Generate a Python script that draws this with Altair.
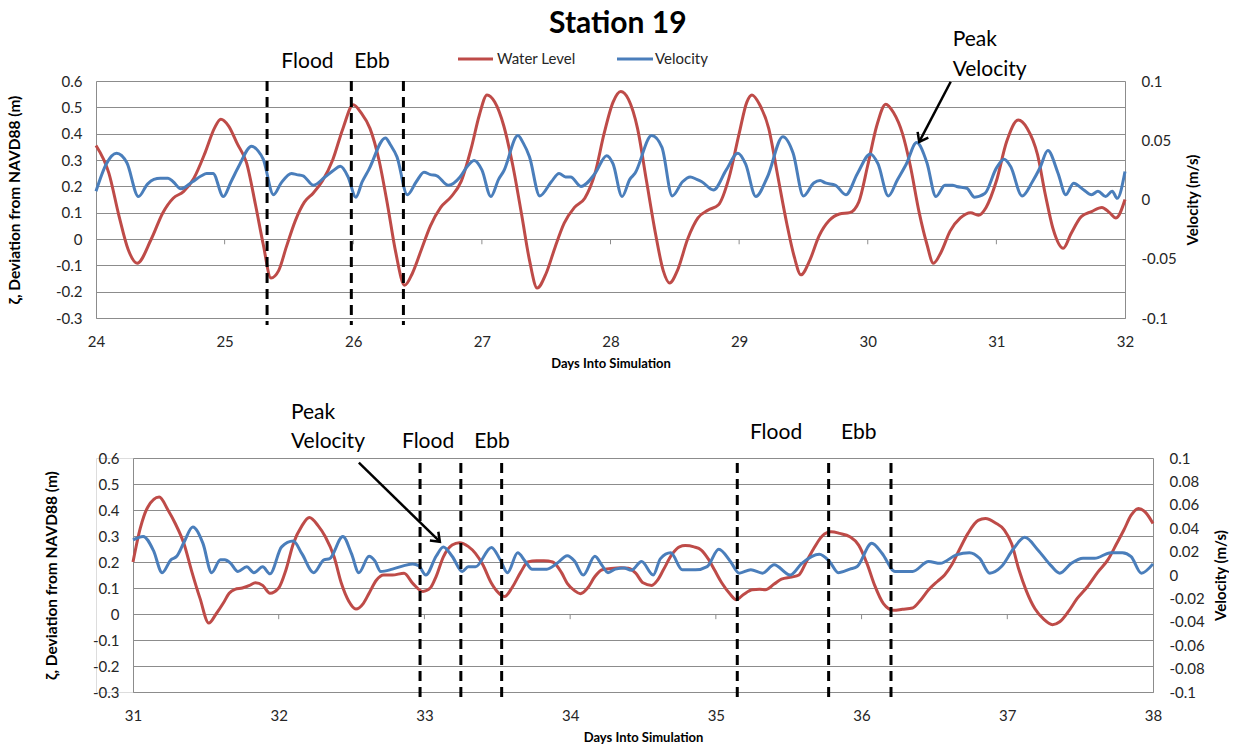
import altair as alt
import pandas as pd

FONT = "Lato, DejaVu Sans"
RED = "#BE4B48"
BLUE = "#4A7EBB"
GRID = "#8C8C8C"
TXT = "#262626"

# ---------------- top panel (days 24-32) ----------------
top_wl_day = [24.00, 24.10, 24.18, 24.25, 24.32, 24.43, 24.52, 24.60, 24.68, 24.76, 24.85, 24.92, 24.97,
              25.03, 25.10, 25.17, 25.24, 25.30, 25.36, 25.42, 25.48, 25.55, 25.62, 25.69, 25.76, 25.84,
              25.92, 26.00, 26.06, 26.13, 26.20, 26.27, 26.33, 26.40, 26.46, 26.53, 26.60, 26.68, 26.76,
              26.84, 26.92, 26.98, 27.04, 27.10, 27.17, 27.24, 27.31, 27.37, 27.43, 27.50, 27.57, 27.64,
              27.72, 27.80, 27.88, 27.95, 28.02, 28.08, 28.14, 28.21, 28.28, 28.35, 28.41, 28.46, 28.52,
              28.60, 28.68, 28.76, 28.84, 28.92, 29.00, 29.06, 29.10, 29.16, 29.23, 29.30, 29.37, 29.43,
              29.48, 29.55, 29.62, 29.70, 29.78, 29.86, 29.93, 30.00, 30.07, 30.14, 30.20, 30.27, 30.33,
              30.40, 30.46, 30.51, 30.57, 30.64, 30.72, 30.80, 30.86, 30.92, 31.00, 31.08, 31.17, 31.24,
              31.32, 31.38, 31.44, 31.52, 31.58, 31.66, 31.74, 31.82, 31.88, 31.93, 32.00]
top_wl_val = [0.355, 0.25, 0.085, -0.04, -0.092, 0.0, 0.10, 0.155, 0.18, 0.23, 0.33, 0.42, 0.455,
              0.43, 0.36, 0.29, 0.13, -0.02, -0.148, -0.12, -0.03, 0.07, 0.14, 0.175, 0.22, 0.30,
              0.42, 0.51, 0.48, 0.42, 0.30, 0.12, -0.05, -0.176, -0.13, -0.04, 0.05, 0.12, 0.16,
              0.22, 0.35, 0.47, 0.547, 0.52, 0.43, 0.28, 0.09, -0.08, -0.186, -0.13, -0.03, 0.06,
              0.12, 0.155, 0.25, 0.40, 0.52, 0.56, 0.53, 0.42, 0.22, 0.02, -0.12, -0.167, -0.12,
              0.0, 0.08, 0.11, 0.13, 0.23, 0.40, 0.52, 0.547, 0.51, 0.42, 0.24, 0.06, -0.07,
              -0.136, -0.08, 0.01, 0.07, 0.095, 0.10, 0.14, 0.28, 0.43, 0.512, 0.48, 0.40, 0.28,
              0.10, -0.02, -0.092, -0.05, 0.03, 0.08, 0.10, 0.09, 0.12, 0.22, 0.37, 0.452, 0.42,
              0.32, 0.17, 0.04, -0.035, 0.02, 0.085, 0.104, 0.12, 0.10, 0.08, 0.15]

top_vel_day = [24.00, 24.08, 24.16, 24.24, 24.33, 24.40, 24.45, 24.50, 24.56, 24.60, 24.66, 24.75, 24.82,
               24.86, 24.91, 24.99, 25.05, 25.11, 25.21, 25.26, 25.30, 25.38, 25.44, 25.52, 25.56, 25.61,
               25.69, 25.78, 25.84, 25.90, 25.96, 26.02, 26.07, 26.12, 26.25, 26.29, 26.34, 26.42, 26.49,
               26.55, 26.60, 26.65, 26.74, 26.83, 26.88, 26.94, 27.00, 27.07, 27.13, 27.17, 27.28, 27.32,
               27.37, 27.45, 27.54, 27.60, 27.65, 27.69, 27.77, 27.88, 27.97, 28.02, 28.09, 28.15, 28.19,
               28.32, 28.40, 28.48, 28.56, 28.62, 28.67, 28.71, 28.80, 28.90, 28.99, 29.05, 29.13, 29.22,
               29.34, 29.42, 29.50, 29.58, 29.63, 29.67, 29.75, 29.83, 29.92, 30.02, 30.08, 30.16, 30.23,
               30.30, 30.38, 30.46, 30.53, 30.60, 30.66, 30.69, 30.77, 30.83, 30.91, 31.00, 31.06, 31.11,
               31.20, 31.28, 31.34, 31.40, 31.48, 31.54, 31.60, 31.68, 31.74, 31.79, 31.85, 31.90, 31.94,
               32.00]
top_vel_val = [0.007, 0.030, 0.039, 0.031, 0.0025, 0.013, 0.017, 0.018, 0.018, 0.015, 0.009, 0.015, 0.020,
               0.022, 0.022, 0.0025, 0.015, 0.028, 0.045, 0.041, 0.034, 0.004, 0.014, 0.022, 0.021, 0.020,
               0.012, 0.019, 0.024, 0.028, 0.019, 0.002, 0.015, 0.025, 0.052, 0.046, 0.036, 0.004, 0.015,
               0.023, 0.021, 0.020, 0.012, 0.019, 0.027, 0.033, 0.025, 0.0025, 0.017, 0.024, 0.054, 0.048,
               0.036, 0.003, 0.015, 0.022, 0.019, 0.019, 0.011, 0.022, 0.037, 0.030, 0.0025, 0.017, 0.022,
               0.054, 0.044, 0.003, 0.015, 0.019, 0.017, 0.015, 0.008, 0.025, 0.039, 0.030, 0.0025, 0.019,
               0.053, 0.039, 0.003, 0.014, 0.016, 0.014, 0.012, 0.004, 0.022, 0.0385, 0.030, 0.003, 0.0165,
               0.030, 0.048, 0.031, 0.0025, 0.012, 0.012, 0.011, 0.0095, 0.002, 0.005, 0.0265, 0.034, 0.028,
               0.003, 0.015, 0.027, 0.0413, 0.022, 0.004, 0.0138, 0.008, 0.004, 0.007, 0.0025, 0.007, 0.001,
               0.0236]

# ---------------- bottom panel (days 31-38) ----------------
bot_wl_day = [31.00, 31.05, 31.10, 31.18, 31.24, 31.29, 31.35, 31.40, 31.46, 31.52, 31.57, 31.62, 31.66,
              31.70, 31.75, 31.80, 31.84, 31.89, 31.94, 32.00, 32.05, 32.10, 32.16, 32.21, 32.27, 32.32,
              32.38, 32.43, 32.48, 32.53, 32.58, 32.62, 32.67, 32.72, 32.78, 32.86, 32.92, 32.99, 33.04,
              33.08, 33.13, 33.19, 33.24, 33.30, 33.35, 33.40, 33.46, 33.51, 33.55, 33.60, 33.66, 33.71,
              33.77, 33.82, 33.88, 33.94, 33.98, 34.03, 34.07, 34.12, 34.17, 34.22, 34.28, 34.35, 34.40,
              34.45, 34.50, 34.56, 34.60, 34.64, 34.70, 34.75, 34.79, 34.85, 34.90, 34.95, 34.99, 35.04,
              35.10, 35.14, 35.19, 35.25, 35.30, 35.34, 35.40, 35.45, 35.52, 35.57, 35.62, 35.67, 35.73,
              35.79, 35.85, 35.92, 35.98, 36.04, 36.09, 36.15, 36.22, 36.28, 36.35, 36.40, 36.46, 36.52,
              36.57, 36.62, 36.67, 36.73, 36.80, 36.85, 36.92, 36.98, 37.03, 37.08, 37.13, 37.19, 37.25,
              37.31, 37.36, 37.42, 37.48, 37.55, 37.62, 37.69, 37.75, 37.80, 37.85, 37.90, 37.95, 38.00]
bot_wl_val = [0.20, 0.33, 0.41, 0.45, 0.40, 0.348, 0.27, 0.17, 0.06, -0.035, 0.00, 0.042, 0.08,
              0.095, 0.10, 0.11, 0.12, 0.11, 0.08, 0.10, 0.17, 0.27, 0.34, 0.371, 0.34, 0.297,
              0.22, 0.118, 0.05, 0.019, 0.04, 0.08, 0.13, 0.15, 0.15, 0.157, 0.118, 0.087, 0.10,
              0.144, 0.22, 0.265, 0.274, 0.26, 0.233, 0.19, 0.118, 0.08, 0.067, 0.10, 0.16, 0.20,
              0.205, 0.205, 0.20, 0.16, 0.118, 0.09, 0.078, 0.10, 0.144, 0.17, 0.175, 0.178, 0.176,
              0.157, 0.12, 0.11, 0.13, 0.17, 0.23, 0.258, 0.263, 0.258, 0.246, 0.21, 0.17, 0.12,
              0.075, 0.055, 0.075, 0.093, 0.095, 0.093, 0.115, 0.134, 0.142, 0.15, 0.20, 0.25, 0.30,
              0.316, 0.31, 0.297, 0.265, 0.19, 0.11, 0.04, 0.014, 0.018, 0.023, 0.05, 0.093, 0.125,
              0.15, 0.19, 0.246, 0.31, 0.36, 0.367, 0.35, 0.323, 0.27, 0.17, 0.09, 0.02, -0.02,
              -0.041, -0.03, 0.01, 0.06, 0.105, 0.16, 0.208, 0.27, 0.323, 0.38, 0.406, 0.39, 0.348]

bot_vel_day = [31.00, 31.07, 31.14, 31.20, 31.26, 31.30, 31.35, 31.41, 31.48, 31.54, 31.60, 31.63, 31.67,
               31.72, 31.78, 31.83, 31.89, 31.94, 32.02, 32.10, 32.16, 32.24, 32.31, 32.35, 32.44, 32.50,
               32.55, 32.62, 32.66, 32.70, 32.78, 32.86, 32.92, 32.96, 33.01, 33.08, 33.13, 33.19, 33.26,
               33.30, 33.35, 33.46, 33.52, 33.57, 33.64, 33.69, 33.74, 33.79, 33.84, 33.91, 33.98, 34.03,
               34.09, 34.17, 34.22, 34.26, 34.31, 34.37, 34.42, 34.49, 34.57, 34.62, 34.69, 34.77, 34.86,
               34.94, 35.02, 35.10, 35.16, 35.24, 35.32, 35.40, 35.51, 35.59, 35.71, 35.78, 35.84, 35.92,
               35.97, 36.07, 36.14, 36.23, 36.35, 36.46, 36.54, 36.65, 36.74, 36.81, 36.88, 36.96, 37.04,
               37.12, 37.21, 37.30, 37.36, 37.44, 37.52, 37.60, 37.71, 37.79, 37.85, 37.92, 38.00]
bot_vel_val = [0.030, 0.033, 0.021, 0.002, 0.013, 0.016, 0.028, 0.041, 0.027, 0.002, 0.013, 0.013, 0.010,
               0.003, 0.007, 0.002, 0.007, 0.001, 0.024, 0.029, 0.018, 0.002, 0.013, 0.014, 0.033, 0.018,
               0.002, 0.016, 0.012, 0.003, 0.005, 0.008, 0.0095, 0.008, 0.0, 0.016, 0.024, 0.016, 0.003,
               0.007, 0.007, 0.0236, 0.013, 0.002, 0.019, 0.012, 0.005, 0.005, 0.005, 0.010, 0.0165, 0.012,
               0.0, 0.016, 0.008, 0.002, 0.005, 0.006, 0.004, 0.0115, 0.0, 0.014, 0.019, 0.0044, 0.0044,
               0.0072, 0.022, 0.0115, 0.0016, 0.0044, 0.0016, 0.0087, 0.0, 0.010, 0.0177, 0.0115, 0.002, 0.005,
               0.0072, 0.0271, 0.0186, 0.003, 0.003, 0.0115, 0.010, 0.0172, 0.0191, 0.0143, 0.0016, 0.0072, 0.022,
               0.0322, 0.0214, 0.008, 0.0016, 0.0101, 0.0143, 0.0143, 0.0191, 0.0191, 0.0157, 0.0016, 0.0095]

# axis ticks
top_x_ticks = [24, 25, 26, 27, 28, 29, 30, 31, 32]
bot_x_ticks = [31, 32, 33, 34, 35, 36, 37, 38]
left_ticks = [-0.3, -0.2, -0.1, 0.0, 0.1, 0.2, 0.3, 0.4, 0.5, 0.6]
top_right_ticks = [-0.1, -0.05, 0.0, 0.05, 0.1]
bot_right_ticks = [-0.1, -0.08, -0.06, -0.04, -0.02, 0.0, 0.02, 0.04, 0.06, 0.08, 0.1]

# annotations (days)
top_dash_days = [25.33, 25.985, 26.39]
bot_dash_days = [32.97, 33.25, 33.53, 35.147, 35.774, 36.202]
top_arrow_day = [30.645, 30.40]
top_arrow_val = [0.597, 0.369]
bot_arrow_day = [32.55, 33.106]
bot_arrow_val = [0.582, 0.278]


def lab(dec):
    return "replace(format(datum.value, '.%d~f'), '\u2212', '-')" % dec


def panel(wl_day, wl_val, v_day, v_val, xdom, xticks, W, H, shift, rticks, rdec,
          dash_days, dash_y1, dash_y2, texts, arrow_day, arrow_val, arrow_angle, legend):
    xscale = alt.Scale(domain=xdom, range=[shift, shift + W], nice=False, zero=False)
    xaxis = alt.Axis(values=xticks, title="Days Into Simulation", grid=False, ticks=False, tickSize=0,
                     domainColor=GRID, domainWidth=1, labelFontSize=15, labelColor=TXT, labelPadding=16,
                     labelFont=FONT, titleFont=FONT, titleFontSize=13, titleFontWeight="bold",
                     titleColor="black", titlePadding=8, labelFlush=False)

    def X(f):
        return alt.X(f, type="quantitative", scale=xscale, axis=xaxis)

    ly = alt.Scale(domain=[-0.3, 0.6], nice=False, zero=False)
    laxis = alt.Axis(orient="left", values=left_ticks, labelExpr=lab(1), grid=True, gridColor=GRID,
                     gridWidth=1, ticks=False, tickSize=0, domainColor=GRID, domainWidth=1,
                     labelFontSize=15, labelColor=TXT, labelPadding=14, labelFont=FONT,
                     title="ζ, Deviation from NAVD88 (m)", titleFont=FONT, titleFontSize=15.5,
                     titleFontWeight="bold", titleColor="black", titlePadding=33, offset=-shift)

    def LY(f):
        return alt.Y(f, type="quantitative", scale=ly, axis=laxis)

    ry = alt.Scale(domain=[-0.1, 0.1], nice=False, zero=False)
    raxis = alt.Axis(orient="right", values=rticks, labelExpr=lab(rdec), grid=False, ticks=False,
                     tickSize=0, domainColor=GRID, domainWidth=1, labelFontSize=15, labelColor=TXT,
                     labelPadding=16, labelFont=FONT, title="Velocity (m/s)", titleFont=FONT,
                     titleFontSize=15, titleFontWeight="bold", titleColor="black", titlePadding=9,
                     titleAngle=270, titleBaseline="top")

    ticks_df = pd.DataFrame({"day": [d for d in xticks[1:-1]],
                             "y0": [0.0] * (len(xticks) - 2),
                             "y1": [-0.02] * (len(xticks) - 2)})
    wl_df = pd.DataFrame({"day": wl_day, "val": wl_val})
    v_df = pd.DataFrame({"day": v_day, "val": v_val})

    zero_ticks = alt.Chart(ticks_df).mark_rule(color=GRID, strokeWidth=1).encode(
        x=X("day"), y=LY("y0"), y2="y1")
    wl_line = alt.Chart(wl_df).mark_line(color=RED, strokeWidth=3, interpolate="monotone").encode(
        x=X("day"), y=LY("val"))
    left_group = alt.layer(zero_ticks, wl_line)

    vel_line = alt.Chart(v_df).mark_line(color=BLUE, strokeWidth=3, interpolate="monotone").encode(
        x=X("day"), y=alt.Y("val", type="quantitative", scale=ry, axis=raxis))

    ay = alt.Scale(domain=[-0.3, 0.6], nice=False, zero=False)
    dash_df = pd.DataFrame({"day": dash_days})
    dashes = alt.Chart(dash_df).mark_rule(color="black", strokeWidth=3, strokeDash=[10, 6]).encode(
        x=X("day"), y=alt.value(dash_y1), y2=alt.value(dash_y2))
    arrow_df = pd.DataFrame({"day": arrow_day, "val": arrow_val, "o": [0, 1]})
    arrow_line = alt.Chart(arrow_df).mark_line(color="black", strokeWidth=2.5).encode(
        x=X("day"), y=alt.Y("val", type="quantitative", scale=ay, axis=None), order="o")
    head_df = arrow_df.iloc[[1]]
    arrow_head = alt.Chart(head_df).mark_point(
        shape="M -1 -0.75 L 0 0 L -1 0.75", filled=False, color="black", strokeWidth=2.5,
        size=260, angle=arrow_angle, opacity=1).encode(
        x=X("day"), y=alt.Y("val", type="quantitative", scale=ay, axis=None))

    annot_layers = [dashes, arrow_line, arrow_head]
    for (label, day, py, align) in texts:
        tdf = pd.DataFrame({"day": [day], "label": [label]})
        annot_layers.append(
            alt.Chart(tdf).mark_text(font=FONT, fontSize=21, color="black", align=align,
                                     baseline="middle").encode(
                x=X("day"), y=alt.value(py), text="label"))
    if legend:
        one = pd.DataFrame({"k": [0]})
        for (name, color, x1, x2, tx) in legend:
            annot_layers.append(alt.Chart(one).mark_rule(color=color, strokeWidth=3).encode(
                x=alt.value(x1), x2=alt.value(x2), y=alt.value(-22)))
            annot_layers.append(alt.Chart(one).mark_text(
                text=name, font=FONT, fontSize=15, color=TXT, align="left", baseline="middle").encode(
                x=alt.value(tx), y=alt.value(-22)))
    annot_group = alt.layer(*annot_layers)

    return alt.layer(left_group, vel_line, annot_group).resolve_scale(y="independent").properties(
        width=shift + W, height=H)


top = panel(top_wl_day, top_wl_val, top_vel_day, top_vel_val, [24, 32], top_x_ticks,
            1029, 237, 0, top_right_ticks, 2,
            top_dash_days, 0, 244,
            [("Flood", 25.644, -19, "center"), ("Ebb", 26.146, -19, "center"),
             ("Peak", 30.66, -41, "left"), ("Velocity", 30.66, -11, "left")],
            top_arrow_day, top_arrow_val, 117.9,
            [("Water Level", RED, 362, 397, 401), ("Velocity", BLUE, 521, 557, 559)])

bottom = panel(bot_wl_day, bot_wl_val, bot_vel_day, bot_vel_val, [31, 38], bot_x_ticks,
               1020, 234, 37, bot_right_ticks, 2,
               bot_dash_days, 5, 240,
               [("Peak", 32.084, -45, "left"), ("Velocity", 32.084, -16, "left"),
                ("Flood", 33.025, -16, "center"), ("Ebb", 33.464, -16, "center"),
                ("Flood", 35.413, -25, "center"), ("Ebb", 35.98, -25, "center")],
               bot_arrow_day, bot_arrow_val, 44.3, None)

chart = alt.vconcat(top, bottom, spacing=30).properties(
    title=alt.TitleParams("Station 19", font=FONT, fontSize=30, fontWeight="bold", color="black",
                          anchor="middle", offset=-10),
    padding={"left": 6, "top": 8, "right": 0, "bottom": 0},
).configure_view(strokeWidth=0).configure(font=FONT)

chart.save("out.html", embed_options={"renderer": "svg", "actions": False})
